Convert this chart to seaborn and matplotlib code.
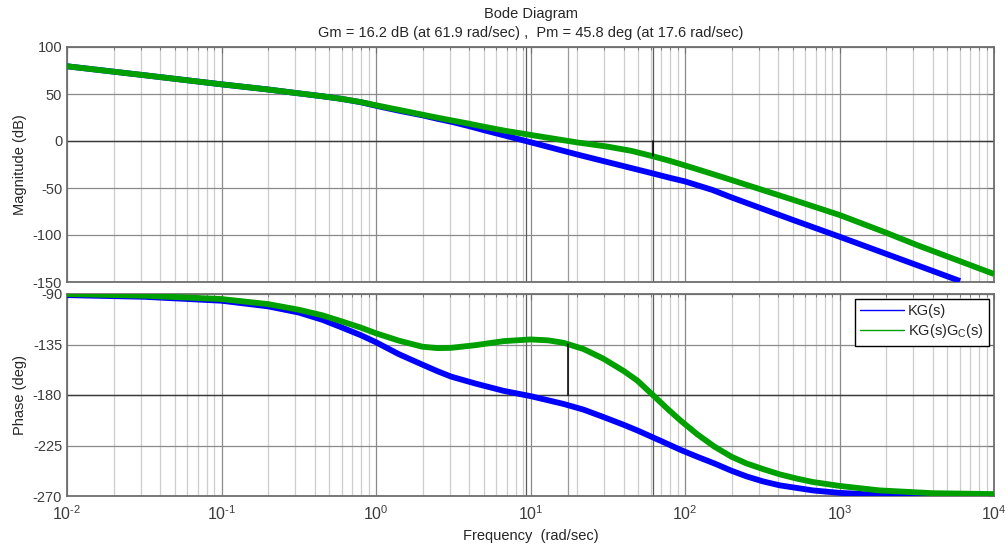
import numpy as np
import pandas as pd
import matplotlib
matplotlib.use("Agg")
import matplotlib.pyplot as plt
import seaborn as sns
from matplotlib.ticker import LogLocator, NullFormatter, FixedLocator
from matplotlib.lines import Line2D

# ---------------- data ----------------
w_mag_kg = [0.01, 0.0316, 0.1, 0.2, 0.316, 0.45, 0.6, 0.8, 1.0, 1.4, 2.0, 2.5, 3.16, 4.0,
            5.0, 7.0, 10.0, 14.0, 20.0, 31.6, 45.0, 61.9, 80.0, 100.0, 150.0, 200.0,
            316.0, 500.0, 1000.0, 2000.0, 3162.0, 6030.0]
mag_kg = [79.5, 70.0, 60.3, 54.8, 50.7, 47.6, 44.8, 41.2, 37.5, 32.3, 27.3, 23.6, 20.0,
          15.8, 11.5, 5.3, -1.3, -7.6, -14.3, -22.5, -28.8, -34.5, -39.2, -43.0,
          -52.0, -60.0, -72.0, -84.0, -101.8, -120.0, -132.0, -149.0]

w_mag_c = [0.01, 0.0316, 0.1, 0.2, 0.316, 0.45, 0.6, 0.8, 1.0, 1.4, 2.0, 2.5, 3.16, 4.0,
           5.0, 7.0, 10.0, 14.0, 20.0, 31.6, 45.0, 61.9, 80.0, 100.0, 150.0, 200.0,
           316.0, 500.0, 1000.0, 2000.0, 3162.0, 10000.0]
mag_c = [79.5, 70.0, 60.3, 54.8, 50.7, 47.6, 44.8, 41.4, 38.0, 33.2, 28.0, 24.8, 21.6,
         18.4, 15.2, 10.6, 6.5, 2.6, -1.5, -6.0, -10.5, -16.2, -21.2, -26.0, -35.0,
         -41.5, -52.0, -62.5, -78.7, -97.5, -110.6, -141.5]

w_ph_kg = [0.01, 0.0316, 0.1, 0.2, 0.316, 0.45, 0.6, 0.8, 1.0, 1.4, 2.0, 2.5, 3.06, 4.4,
           6.7, 10.0, 16.4, 22.0, 29.5, 40.0, 49.0, 70.0, 94.0, 120.0, 155.0, 200.0,
           250.0, 320.0, 410.0, 670.0, 1000.0, 1810.0, 4000.0, 10000.0]
ph_kg = [-91.0, -92.5, -96.0, -101.0, -106.5, -113.0, -119.8, -126.8, -133.0, -143.5,
         -153.0, -158.8, -163.6, -169.8, -176.3, -181.0, -188.0, -193.0, -199.5,
         -206.5, -211.5, -221.0, -229.0, -235.0, -241.0, -247.5, -252.5, -257.0,
         -260.5, -265.0, -267.2, -269.0, -269.8, -270.0]

w_ph_c = [0.01, 0.0316, 0.1, 0.2, 0.316, 0.45, 0.6, 0.8, 1.0, 1.4, 2.0, 2.5, 3.06, 4.4,
          6.7, 10.0, 13.0, 16.4, 22.0, 29.5, 40.0, 49.0, 61.9, 78.0, 94.0, 120.0,
          155.0, 200.0, 250.0, 320.0, 410.0, 530.0, 670.0, 1000.0, 1810.0, 4000.0,
          10000.0]
ph_c = [-90.0, -91.5, -94.5, -99.0, -104.0, -109.0, -114.4, -120.0, -125.0, -131.5,
        -137.0, -138.2, -138.0, -135.6, -132.0, -130.5, -131.3, -133.5, -139.0,
        -147.5, -158.5, -167.0, -180.0, -193.0, -203.0, -215.0, -226.0, -235.0,
        -241.0, -246.0, -250.7, -254.5, -257.5, -261.0, -265.0, -267.5, -268.3]

series_names = ["KG(s)", "KG(s)G$_C$(s)"]
series_colors = ["#0000FF", "#00A000"]

title_lines = ["Bode Diagram",
               "Gm = 16.2 dB (at 61.9 rad/sec) ,  Pm = 45.8 deg (at 17.6 rad/sec)"]
mag_ticks = [100, 50, 0, -50, -100, -150]
ph_ticks = [-90, -135, -180, -225, -270]
x_decades = [-2, -1, 0, 1, 2, 3, 4]

gm_w, gm_db = 61.9, -16.2
pm_w, pm_ph = 17.6, -134.2
wc_kg = 9.3

# ---------------- style ----------------
sns.set_style("white")
plt.rcParams["font.family"] = ["Liberation Sans", "DejaVu Sans"]
plt.rcParams["mathtext.fontset"] = "custom"
plt.rcParams["mathtext.rm"] = "Liberation Sans"
plt.rcParams["mathtext.it"] = "Liberation Sans"
plt.rcParams["axes.unicode_minus"] = False

fig = plt.figure(figsize=(10.08, 5.51), dpi=100)
L, R = 67 / 1008, 994 / 1008
ax1 = fig.add_axes([L, 1 - 282 / 551, R - L, (282 - 47) / 551])
ax2 = fig.add_axes([L, 1 - 496 / 551, R - L, (496 - 294) / 551])

df_mag = pd.concat([
    pd.DataFrame({"w": w_mag_kg, "v": mag_kg, "s": series_names[0]}),
    pd.DataFrame({"w": w_mag_c, "v": mag_c, "s": series_names[1]}),
])
df_ph = pd.concat([
    pd.DataFrame({"w": w_ph_kg, "v": ph_kg, "s": series_names[0]}),
    pd.DataFrame({"w": w_ph_c, "v": ph_c, "s": series_names[1]}),
])

tick_col = "#3c3c3c"
spine_col = "#6e6e6e"

for ax, df, ylim, yt in [(ax1, df_mag, (-150, 100), mag_ticks),
                         (ax2, df_ph, (-270, -90), ph_ticks)]:
    ax.set_xscale("log")
    for name, col in zip(series_names, series_colors):
        sub = df[df["s"] == name]
        sns.lineplot(data=sub, x="w", y="v", ax=ax, color=col, lw=4.2,
                     sort=False, estimator=None, legend=False, zorder=5)
    for ln in ax.get_lines():
        ln.set_solid_joinstyle("round")
        ln.set_solid_capstyle("butt")
    ax.set_xlim(1e-2, 1e4)
    ax.set_ylim(*ylim)
    ax.yaxis.set_major_locator(FixedLocator(yt))
    ax.xaxis.set_major_locator(LogLocator(base=10, numticks=20))
    ax.xaxis.set_minor_locator(LogLocator(base=10, subs=np.arange(2, 10), numticks=100))
    ax.xaxis.set_minor_formatter(NullFormatter())
    ax.grid(which="major", color="#8a8a8a", lw=0.9, zorder=0)
    ax.grid(which="minor", axis="x", color="#cdcdcd", lw=0.9, zorder=0)
    ax.tick_params(which="both", direction="in", top=True, right=True,
                   colors=spine_col, labelcolor=tick_col, labelsize=10.5)
    ax.tick_params(which="major", length=4, width=0.8)
    ax.tick_params(which="minor", length=2.5, width=0.6)
    for sp in ax.spines.values():
        sp.set_color(spine_col)
        sp.set_linewidth(1.3)
    ax.set_xlabel("")
    ax.set_ylabel("")
    for wl in (wc_kg, gm_w):
        ax.axvline(wl, color="#5a5a5a", lw=0.9, zorder=1)
    ax.axvline(pm_w, color="#9a9a9a", lw=0.9, zorder=1)

ax1.axhline(0, color="#3a3a3a", lw=1.0, zorder=1)
ax2.axhline(-180, color="#3a3a3a", lw=1.0, zorder=1)
ax1.plot([gm_w, gm_w], [0, gm_db], color="black", lw=1.1, zorder=6)
ax2.plot([pm_w, pm_w], [-180, pm_ph], color="black", lw=1.1, zorder=6)

ax1.set_xticklabels([])
ax1.tick_params(axis="x", which="both", labelbottom=False)
ax2.set_xticks([10.0 ** d for d in x_decades])
ax2.set_xticklabels([f"$10^{{\\text{{{d}}}}}$" for d in x_decades], fontsize=11.5)
ax2.tick_params(axis="x", pad=6)

ax1.set_ylabel("Magnitude (dB)", fontsize=10.5, labelpad=4)
ax2.set_ylabel("Phase (deg)", fontsize=10.5, labelpad=4)
ax2.set_xlabel("Frequency  (rad/sec)", fontsize=10.5, labelpad=4)
ax1.yaxis.set_label_coords(-0.043, 0.5)
ax2.yaxis.set_label_coords(-0.043, 0.5)

fig.text(0.5 * (L + R), 1 - 14 / 551, title_lines[0], ha="center", va="center", fontsize=10.5)
fig.text(0.5 * (L + R), 1 - 33 / 551, title_lines[1], ha="center", va="center", fontsize=10.5)

handles = [Line2D([0], [0], color=c, lw=1.0) for c in series_colors]
leg = ax2.legend(handles, series_names, loc="upper right", bbox_to_anchor=(0.9975, 0.99),
                 fontsize=10.5, frameon=True, fancybox=False, handlelength=3.0,
                 handletextpad=0.3, borderpad=0.35, labelspacing=0.3, borderaxespad=0.2)
leg.get_frame().set_edgecolor("black")
leg.get_frame().set_linewidth(1.0)
leg.get_frame().set_alpha(1.0)
leg.set_zorder(10)

fig.savefig("out.png", dpi=100)
